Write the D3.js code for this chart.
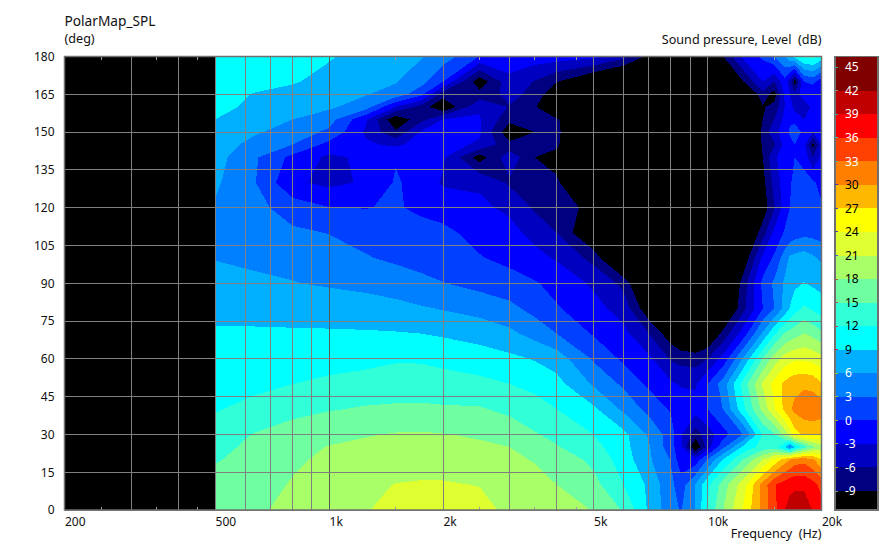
<!DOCTYPE html>
<html>
<head>
<meta charset="utf-8">
<script src="https://cdn.jsdelivr.net/npm/d3@7"></script>
<style>
html,body{margin:0;padding:0;background:#fff;}
svg{display:block;}
text{font-family:"Noto Sans",sans-serif;font-size:12px;fill:#111;}
</style>
</head>
<body>
<svg id="c" width="892" height="545"></svg>
<script>
const freqs=[500,630,800,1000,1250,1500,1750,2000,2500,3000,3500,4000,5000,6000,7000,8000,8500,9300,10000,11000,12500,14000,15000,16000,16500,17000,18000,19000,20000];
const angles=[0,10,20,25,30,40,50,60,70,80,90,100,110,120,130,140,145,150,155,160,165,170,180];
const a0=[17,17.6,18.6,19.6,20.8,22,22.7,22.9,22,20.3,19.4,19,17.9,14.7,8.5,4,2.8,6.2,12.2,18,24.7,31,35,39,40.2,40.8,41,38.8,37.5];
const a10=[16.3,16.9,18.2,19,20.3,21.1,21.3,21.3,20.9,19.8,19,18,16,12,8.4,3.7,1.5,6.3,11.3,16.5,23,31.2,35.7,37.6,38.2,38.4,38.3,37,35];
const a20=[14.7,16.3,17.6,18.5,19.2,19.6,19.7,19.6,19,18.6,17.8,17,14.2,10.6,6.5,2.8,-2,-1.8,3.2,9.3,15.3,21,24.7,28.5,30,31.5,32,30.5,27.2];
const a25=[13.9,15.8,17.2,18.1,18.6,19,19.1,19,18.4,18,16.6,15.2,13,10,6.3,1.3,-2.3,-12,-4.5,2.3,10,13.2,13.5,9,4.5,9,13.5,17.3,19.5];
const a30=[13.3,15.1,16.2,17.3,17.8,18.2,18.3,18.1,17.7,16.8,15.2,14.3,12,9.8,5.6,1.4,-2.6,-7.5,-4.5,-1.2,3.3,12.3,14.7,19.2,22.5,25.8,27.5,27.5,27];
const a40=[11.8,12.8,14.2,14.8,15.3,15.5,15.6,15.4,15.3,14.3,13.5,12,9.6,5.4,2,-0.3,-1.2,-1.7,0,3.1,11.6,18.9,23.6,27.9,29.6,30.8,31.8,32.3,31.8];
const a50=[11,11.3,12,12.7,13.2,13.4,13.3,13.1,12.7,12,11,10,5.6,2.4,-0.6,-2.5,-3.3,-3.4,0,4.5,13.7,21.4,25,27.7,28.5,29,29.5,29,27.3];
const a60=[10.2,10.3,10.5,10.7,11.1,11.7,11.7,11.3,10.6,9.7,8.8,7.6,2.6,-0.6,-2.3,-6.3,-7,-7.4,-6,-1.8,6.8,15.2,19.5,22.3,23,23.5,23.5,23,22];
const a70=[9.4,9.4,9.4,9.4,9.3,9.2,9,8.6,7.7,6.7,4.9,3,-0.3,-2.2,-6,-11,-13,-14,-13,-8,-1.2,6.5,11.5,15.3,16,16.8,18.1,17,15.7];
const a80=[8.1,8,7.7,7.4,7.3,6.9,6.3,5.8,5,3.8,2,0.3,-2,-4.2,-11.5,-15,-16,-16,-16,-14,-6.6,0,3,7,9.2,10.7,12.5,11.5,10.5];
const a90=[6.9,6.5,6.1,5.7,5.2,4.5,3.7,3.1,2,1.2,0.3,-1.1,-3.5,-6.8,-16,-16,-16,-16,-16,-16,-7.2,0.8,3.5,6.6,7.4,8.4,9.1,8.5,8];
const a100=[5.9,5.5,5.2,4.4,3.2,2.5,2,1.3,0.2,-0.8,-2.2,-3.3,-7,-16,-16,-16,-16,-16,-16,-16,-11,-2.2,0.5,4.5,6.5,7,7.5,6.5,5.5];
const a110=[5,4.6,3.6,2.9,2.1,1.4,1.1,0.7,-1,-2.2,-3.8,-6,-13,-16,-16,-16,-16,-16,-16,-16,-14,-7.3,-2.3,0.4,1,1.5,2.2,2,1.5];
const a120=[5.7,4.1,1.5,0.1,-0.1,0.3,-0.6,-1.2,-2.5,-3.5,-6.5,-7.5,-10,-16,-16,-16,-16,-16,-16,-16,-16,-11,-6.2,-1.5,0,0.5,1.2,1,0.3];
const a130=[6.5,3.4,-2.4,-3.8,-2.6,0.3,-1,-3.4,-3.4,-6.5,-7.8,-8.6,-14,-16,-16,-16,-16,-16,-16,-16,-16,-10,-5,-1.5,-0.2,0.5,1,0.5,-1];
const a140=[7.2,3.6,-0.8,-3.6,-2.4,-0.2,-1.2,-2.5,-10.5,-4,-9,-10,-16,-16,-16,-16,-16,-16,-16,-16,-16,-9,-3.5,-1.5,-0.5,0,-1,-6,-2];
const a145=[7.8,5,3,-1,-2.6,-3.5,-2,-1.8,-3.5,-8,-7,-8.5,-16,-16,-16,-16,-16,-16,-16,-16,-16,-8.5,-6.5,-2,-1,0,-2,-10,-3];
const a150=[8.3,6.5,4.6,2.4,-3.4,-8.5,-2.7,-1.5,-2.5,-11.5,-9,-8.2,-16,-16,-16,-16,-16,-16,-16,-16,-16,-8,-4,-1.5,0.5,2,-1,-3,-1.5];
const a155=[9,7.6,6,4.3,-2.5,-11.5,-7,-3,-2.8,-8,-6.5,-8.5,-16,-16,-16,-16,-16,-16,-16,-16,-16,-9,-6,-2,-0.5,-1,-3,-2.5,-0.7];
const a160=[9.6,8.6,7.4,6.5,4.4,-3,-7.2,-12,-3.3,-6.2,-8.5,-16,-16,-16,-16,-16,-16,-16,-16,-16,-16,-9.3,-8,-3,-1.5,-4,-5,-2,0];
const a165=[10,8.9,8.3,7.6,6.2,4.8,1,-7.5,-8,-5,-7,-12,-16,-16,-16,-16,-16,-16,-16,-16,-14,-7,-10.5,-2.5,-3,-5,-1,-3,-2];
const a170=[10.2,9.8,9.2,8.3,7.7,6.2,4.2,0,-11,-4,-6.2,-8.9,-13,-16,-16,-16,-16,-16,-16,-16,-8.8,-3,-6,-1,-5,-10.5,0,1,-2];
const a180=[10.6,10.2,9.8,9.2,8.2,7.1,6.2,4.6,-0.1,-1,-1.4,-1.5,-2.2,-5,-10,-16,-16,-16,-16,-9,-2,0.5,3,6,8.5,10,12.5,13,11];
const rows=[a0,a10,a20,a25,a30,a40,a50,a60,a70,a80,a90,a100,a110,a120,a130,a140,a145,a150,a155,a160,a165,a170,a180];

const levels=[-9,-6,-3,0,3,6,9,12,15,18,21,24,27,30,33,36,39,42];
const bandColors=["#000080","#0000c0","#0000ff","#0040ff","#0080ff","#00b0ff","#00ffff","#30ffd8","#70ffa0","#a8ff68","#e0ff30","#ffff00","#ffb800","#ff8000","#ff4000","#ff0000","#c00000","#800000"];
const barLabels=[45,42,39,36,33,30,27,24,21,18,15,12,9,6,3,0,-3,-6,-9];
const barTickColors=["#40a0a0","#909090","#40a0a0","#40c0c0","#60a0a0","#4040a0","#4040a0","#4040a0","#4060c0","#a06040","#a06060","#d04040","#d02040","#a0c040","#a0c040","#b0a030","#b0a030","#b0a030","#909090"];
const xLabels=[200,500,1000,2000,5000,10000,20000];
const xGrid=[300,400,500,600,700,800,900,1000,2000,3000,4000,5000,6000,7000,8000,9000,10000];
const xMinor=[250,350,450,1500,2500,3500,4500,15000];
const yLabels=[0,15,30,45,60,75,90,105,120,135,150,165,180];

const L=64.5,R=821.5,T=56.5,B=510;
const svg=d3.select("#c");
const x=d3.scaleLog().domain([200,20000]).range([L,R]);
const y=d3.scaleLinear().domain([0,180]).range([B,T]);
const n=freqs.length,m=angles.length;
const gx=d3.scaleLinear().domain(freqs.map((_,i)=>i+0.5)).range(freqs.map(f=>x(f)));
const gy=d3.scaleLinear().domain(angles.map((_,i)=>i+0.5)).range(angles.map(a=>y(a)));
const path=d3.geoPath(d3.geoTransform({point(a,b){this.stream.point(gx(a),gy(b));}}));

svg.append("defs").append("clipPath").attr("id","map").append("rect")
  .attr("x",x(500)).attr("y",T).attr("width",R-x(500)).attr("height",B-T);

svg.append("rect").attr("x",L).attr("y",T).attr("width",R-L).attr("height",B-T).attr("fill","#000");

const contours=d3.contours().size([n,m]).thresholds(levels)(rows.flat());
svg.append("g").attr("clip-path","url(#map)").selectAll("path").data(contours).join("path")
  .attr("d",path).attr("fill",(d,i)=>bandColors[i]).attr("shape-rendering","crispEdges");

const grid=svg.append("g").attr("stroke","#808080").attr("stroke-width",1).attr("shape-rendering","crispEdges");
grid.selectAll(".v").data(xGrid).join("line").attr("class","v")
  .attr("x1",d=>x(d)).attr("x2",d=>x(d)).attr("y1",T).attr("y2",B)
  .attr("stroke",d=>d===1000?"#5a5a5a":"#808080");
grid.selectAll(".h").data(yLabels).join("line").attr("class","h")
  .attr("x1",L).attr("x2",R).attr("y1",d=>y(d)).attr("y2",d=>y(d));
grid.selectAll(".mt").data(xMinor).join("line").attr("class","mt")
  .attr("x1",d=>x(d)).attr("x2",d=>x(d)).attr("y1",T).attr("y2",T+3).attr("stroke","#a0a0a0");
grid.selectAll(".mb").data(xMinor).join("line").attr("class","mb")
  .attr("x1",d=>x(d)).attr("x2",d=>x(d)).attr("y1",B-3).attr("y2",B).attr("stroke","#a0a0a0");
svg.append("rect").attr("x",L).attr("y",T).attr("width",R-L).attr("height",B-T)
  .attr("fill","none").attr("stroke","#707070").attr("stroke-width",1.5);

const fmtF=d=>d>=1000?(d/1000)+"k":String(d);
const ax=svg.append("g").attr("transform",`translate(0,${B})`)
  .call(d3.axisBottom(x).tickValues(xLabels).tickSize(0).tickFormat(fmtF));
ax.select(".domain").remove();
ax.selectAll("text").attr("text-anchor","start").attr("y",7).attr("dy","0.71em")
  .style("font-family",'"Noto Sans",sans-serif').style("font-size","12px");
const ay=svg.append("g").attr("transform",`translate(${L},0)`)
  .call(d3.axisLeft(y).tickValues(yLabels).tickSize(0));
ay.select(".domain").remove();
ay.selectAll("text").attr("x",-10).style("font-family",'"Noto Sans",sans-serif').style("font-size","12px");

const text=(s,px,py,anchor,size)=>svg.append("text").attr("x",px).attr("y",py).attr("text-anchor",anchor||"start")
  .attr("xml:space","preserve").style("white-space","pre").style("font-size",size+"px").text(s);
text("PolarMap_SPL",L,26,"start",13.7);
text("(deg)",L,43,"start",12.6);
text("Sound pressure, Level  (dB)",R,43.5,"end",12.6);
text("Frequency  (Hz)",R,538,"end",12.6);

const bx=835,bw=43;
const by=d3.scaleLinear().domain([-9,42]).range([491,90.7]);
const edges=[...levels,null];
const bar=svg.append("g").attr("shape-rendering","crispEdges");
bar.append("rect").attr("x",bx).attr("y",T).attr("width",bw).attr("height",B-T).attr("fill","#000");
bar.selectAll(".b").data(bandColors).join("rect").attr("class","b")
  .attr("x",bx).attr("width",bw)
  .attr("y",(d,i)=>edges[i+1]===null?T:by(edges[i+1]))
  .attr("height",(d,i)=>by(edges[i])-(edges[i+1]===null?T:by(edges[i+1])))
  .attr("fill",d=>d);
bar.append("rect").attr("x",bx).attr("y",T).attr("width",bw).attr("height",B-T)
  .attr("fill","none").attr("stroke","#707070").attr("stroke-width",1.5);
bar.selectAll(".t").data(barLabels).join("line").attr("class","t")
  .attr("x1",bx).attr("x2",bx+3).attr("y1",d=>by(d)).attr("y2",d=>by(d))
  .attr("stroke",(d,i)=>barTickColors[i]);
svg.append("g").selectAll("text").data(barLabels).join("text")
  .attr("x",bx+10).attr("y",d=>by(d)).attr("dy","0.35em").text(d=>d)
  .style("fill",d=>(d>=33||d<=6)?"#fff":"#000");
</script>
</body>
</html>
